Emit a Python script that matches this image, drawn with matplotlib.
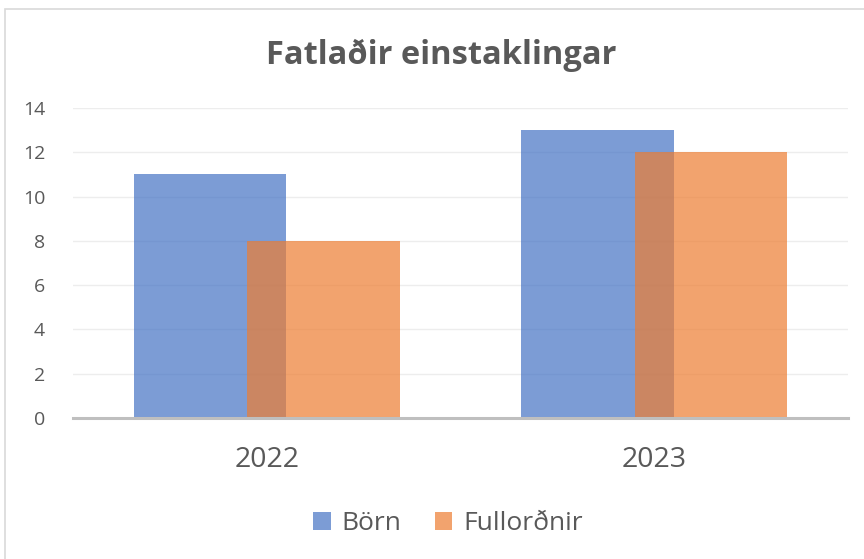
import matplotlib.pyplot as plt
import numpy as np
from matplotlib.patches import Rectangle

# data
years = ["2022", "2023"]
born = [11, 13]
fullordnir = [8, 12]
yticks = [0, 2, 4, 6, 8, 10, 12, 14]

plt.rcParams["font.family"] = ["Open Sans", "DejaVu Sans"]

W, H = 864, 559
fig = plt.figure(figsize=(W / 100, H / 100), dpi=100)

# chart frame (Excel style)
fig.patches.append(
    Rectangle((5 / W, 0 - 0.01), 1.0, 1 - 9 / H + 0.01, transform=fig.transFigure,
              fill=False, edgecolor="#D9D9D9", linewidth=1.2)
)

# plot area in pixels: x 73..848, y 108..418
ax = fig.add_axes([73 / W, 1 - 418 / H, (848 - 73) / W, (418 - 108) / H])
x = np.arange(len(years))
bw = 0.393
off = 0.1466
ax.bar(x - off, born, width=bw, color="#4472C4", alpha=0.7, label="Börn", zorder=2)
ax.bar(x + off, fullordnir, width=bw, color="#ED7D31", alpha=0.7, label="Fullorðnir", zorder=3)

ax.set_xlim(-0.5, len(years) - 0.5)
ax.set_ylim(0, 14)
ax.set_yticks(yticks)
ax.set_xticks(x)
ax.set_xticklabels(years)
ax.tick_params(axis="y", length=0, labelsize=14, labelcolor="#595959", pad=20)
ax.tick_params(axis="x", length=0, labelsize=20.5, labelcolor="#595959", pad=20)
ax.grid(axis="y", color="#EDEDED", linewidth=1, zorder=0)
for s in ["top", "right", "left"]:
    ax.spines[s].set_visible(False)
ax.spines["bottom"].set_color("#BFBFBF")
ax.spines["bottom"].set_linewidth(2.2)
ax.spines["bottom"].set_zorder(4)

fig.text(441 / W, 1 - 55 / H, "Fatlaðir einstaklingar", ha="center", va="center",
         fontsize=23.5, fontweight="bold", color="#595959")

leg = fig.legend(loc="center", bbox_to_anchor=(448 / W, 1 - 524 / H), ncol=2, frameon=False,
                 fontsize=19, handlelength=0.65, handleheight=0.65, handletextpad=0.4,
                 columnspacing=1.3)
for t in leg.get_texts():
    t.set_color("#595959")

fig.savefig("out.png", dpi=100)
